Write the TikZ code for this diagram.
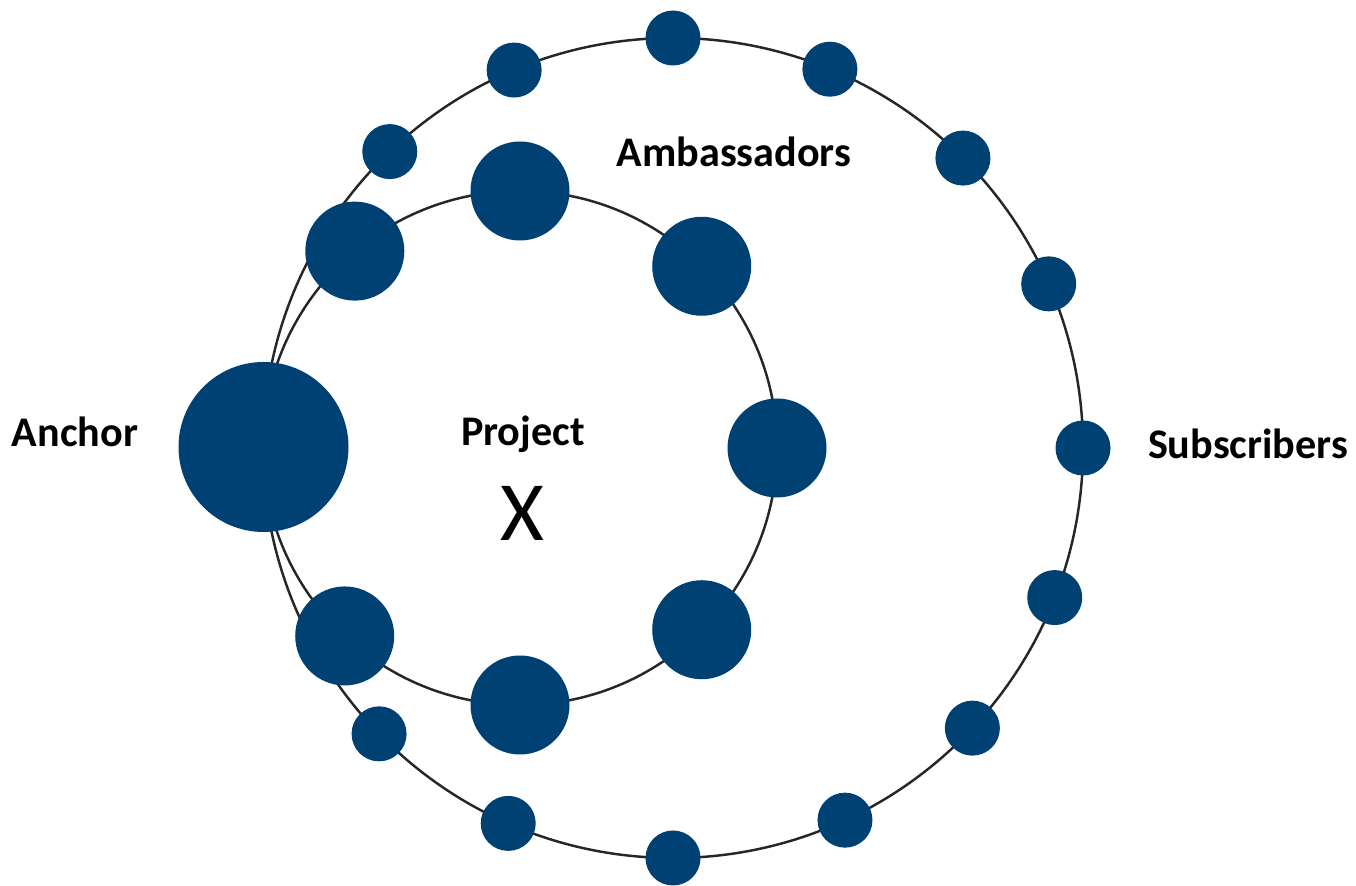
\documentclass[tikz,border=0pt]{standalone}
\usepackage{fontspec}
\setmainfont{Carlito}
\usetikzlibrary{calc}
\definecolor{dotblue}{RGB}{0,65,115}

\begin{document}
\begin{tikzpicture}[x=.1mm, y=.1mm,
	ring/.style={line width=.7pt, color=black!85},
	dot/.style={fill=dotblue},
	lbl/.style={anchor=base, font=\fontsize{12}{14}\selectfont\bfseries}]

	\useasboundingbox (0,0) rectangle (1356,886);

% centres of the two rings
	\coordinate (outer) at (673,438);
	\coordinate (inner) at (520,438);

% draw rings
	\draw[ring] (outer) circle (410);
	\draw[ring] (inner) circle (257);

% subscribers on the outer ring
	\foreach \a in {90,67.5,45,23.6,0,-21.4,-43.1,-65.2,-90,-113.7,-135.8,133.7,112.8}
		\fill[dot] ($(outer)+(\a:410)$) circle (27.5);

% ambassadors on the inner ring
	\foreach \a in {-133,-90,-45,0,45,90,130}
		\fill[dot] ($(inner)+(\a:257)$) circle (49.5);

% anchor
	\fill[dot] (263.5,439) circle (85);

% labels
	\node[lbl] (anchor) at (75,439) {Anchor};
	\node[lbl] (project) at (523,440) {Project};
	\node[lbl] (ambassadors) at (734,719) {Ambassadors};
	\node[lbl] (subscribers) at (1248,427) {Subscribers};
	\node[anchor=base, font=\fontsize{24}{28}\selectfont] (x) at (522,345) {X};

\end{tikzpicture}
\end{document}
